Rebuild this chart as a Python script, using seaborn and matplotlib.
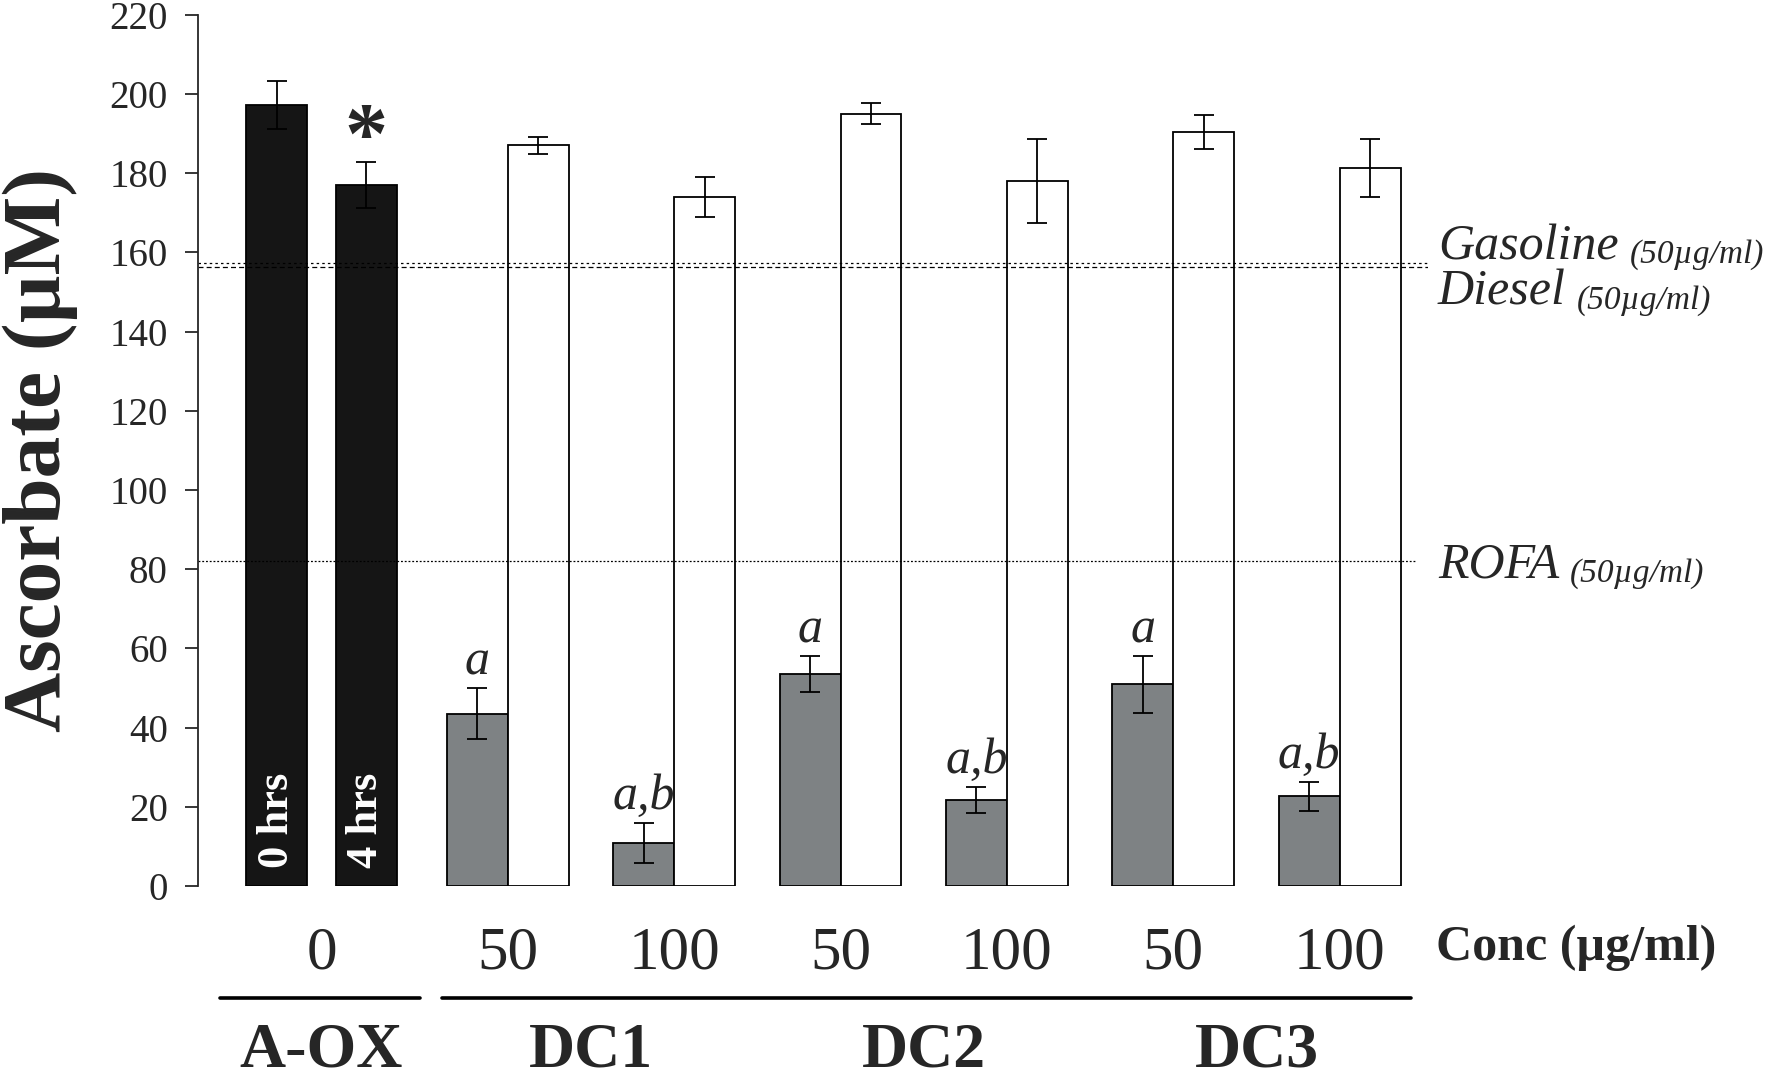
import numpy as np
import pandas as pd
import matplotlib
matplotlib.use('Agg')
import matplotlib.pyplot as plt
import seaborn as sns

# A-OX control (0 and 4 hrs)
aox_labels = ['0 hrs', '4 hrs']
aox_mean = [197.2, 176.9]
aox_err = [6.0, 5.8]

# DC1..DC3 at 50 and 100 ug/ml, grey and white bars
groups = ['DC1', 'DC2', 'DC3']
conc = ['50', '100']
grey_mean = [43.5, 10.9, 53.6, 21.8, 50.9, 22.6]
grey_err = [6.4, 5.0, 4.5, 3.3, 7.2, 3.6]
white_mean = [187.0, 174.0, 195.0, 178.0, 190.4, 181.3]
white_err = [2.1, 5.0, 2.7, 10.5, 4.3, 7.3]
grey_marks = ['a', 'a,b', 'a', 'a,b', 'a', 'a,b']

# reference levels
ref_names = ['Gasoline', 'Diesel', 'ROFA']
ref_values = [157.2, 156.2, 82.0]

# layout (x in bar widths)
aox_x = [1.30, 2.77]
grey_x = [4.59 + 2.73 * i for i in range(6)]
white_x = [g + 1 for g in grey_x]

df = pd.DataFrame({
    'x': aox_x + grey_x + white_x,
    'value': aox_mean + grey_mean + white_mean,
    'kind': ['aox'] * 2 + ['grey'] * 6 + ['white'] * 6,
})
errs = aox_err + grey_err + white_err

sns.set_style('ticks')
plt.rcParams['font.family'] = ['Liberation Serif', 'DejaVu Serif']

fig = plt.figure(figsize=(17.7, 10.79), dpi=100)
ax = fig.add_axes([0.1116, 0.1789, 0.6952, 0.8075])

sns.barplot(data=df, x='x', y='value', hue='kind', native_scale=True, dodge=False,
            width=1, errorbar=None, legend=False, ax=ax,
            palette={'aox': '#151515', 'grey': '#7d8285', 'white': 'white'},
            edgecolor='black', linewidth=1.3)
ax.errorbar(df['x'], df['value'], yerr=errs, fmt='none', ecolor='black',
            elinewidth=1.3, capsize=7.5, capthick=1.3, zorder=3)

# reference lines
ax.axhline(ref_values[0], color='black', lw=0.9, dashes=(2, 2.5), zorder=2)
ax.axhline(ref_values[1], color='black', lw=0.9, dashes=(4, 2.5), zorder=2)
ax.axhline(ref_values[2], color='black', lw=0.9, dashes=(1.5, 1.5), xmax=0.99, zorder=2)

ytr = ax.get_yaxis_transform()
for name, y in zip(ref_names, [158.3, 146.7, 77.8]):
    t = ax.text(1.008, y, name, transform=ytr, fontsize=36, style='italic',
                va='baseline', ha='left', clip_on=False)
    ax.annotate('(50µg/ml)', xy=(1, 0), xycoords=t, xytext=(8, 0),
                textcoords='offset points', fontsize=24, style='italic',
                va='bottom', ha='left', annotation_clip=False)

# labels inside / above bars
for x, lab in zip(aox_x, aox_labels):
    ax.text(x, 4.5, lab, rotation=90, color='white', fontsize=32,
            fontweight='bold', ha='center', va='bottom')
ax.text(aox_x[1], aox_mean[1] + aox_err[1], '*', fontsize=62,
        fontweight='bold', ha='center', va='baseline')
for x, m, e, lab in zip(grey_x, grey_mean, grey_err, grey_marks):
    ax.text(x, m + e + 3.5, lab, fontsize=36, style='italic',
            ha='center', va='baseline')

# axes
ax.set_xlim(0, 20.19)
ax.set_ylim(0, 220)
ax.set_yticks(np.arange(0, 221, 20))
ax.tick_params(axis='y', labelsize=28, length=9.5, width=1.3, pad=12)
pair_x = [np.mean(aox_x)] + [g + 0.5 for g in grey_x]
ax.set_xticks(pair_x)
ax.set_xticklabels(['0'] + conc * 3)
ax.tick_params(axis='x', labelsize=44, length=0, pad=29)
ax.set_xlabel('')
ax.set_ylabel('Ascorbate (µM)', fontsize=60, fontweight='bold')
ax.yaxis.set_label_coords(-0.097, 0.5)
sns.despine(ax=ax, bottom=True)
ax.spines['left'].set_linewidth(1.3)

fig.text(1436 / 1770, 0.110, 'Conc (µg/ml)', fontsize=36, fontweight='bold',
         ha='left', va='baseline')

# group underlines and names
xtr = ax.get_xaxis_transform()
ax.plot([aox_x[0] - 0.93, aox_x[1] + 0.88], [-0.1286, -0.1286], color='black',
        lw=2.6, transform=xtr, clip_on=False)
ax.plot([grey_x[0] - 0.58, white_x[-1] + 0.67], [-0.1286, -0.1286], color='black',
        lw=2.6, transform=xtr, clip_on=False)
ax.text(np.mean(aox_x), -0.207, 'A-OX', transform=xtr, fontsize=46,
        fontweight='bold', ha='center', va='baseline')
for i, g in enumerate(groups):
    gx = (pair_x[1 + 2 * i] + pair_x[2 + 2 * i]) / 2
    ax.text(gx, -0.207, g, transform=xtr, fontsize=46, fontweight='bold',
            ha='center', va='baseline')

fig.savefig('out.png', dpi=100)
